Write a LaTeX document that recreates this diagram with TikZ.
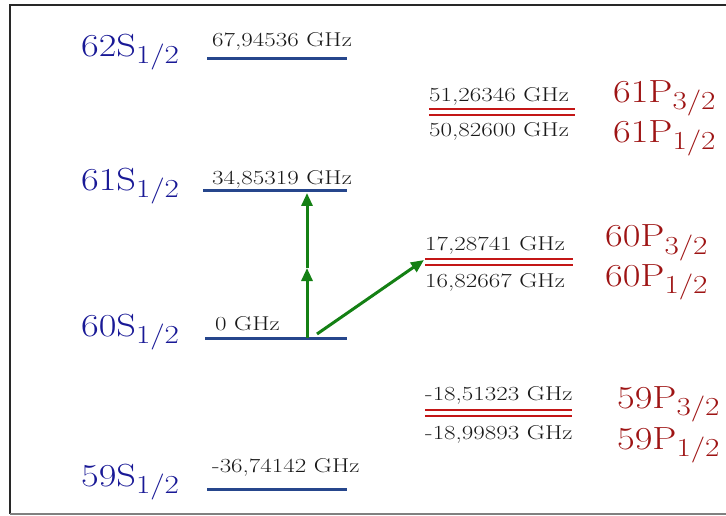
\documentclass[tikz,border=0pt]{standalone}
\usetikzlibrary{arrows.meta}
\definecolor{lvlblue}{RGB}{38,70,140}
\definecolor{txtblue}{RGB}{25,25,150}
\definecolor{lvlred}{RGB}{195,22,22}
\definecolor{txtred}{RGB}{158,20,20}
\definecolor{arrgreen}{RGB}{20,128,20}
\definecolor{freqgray}{RGB}{25,25,25}
\definecolor{framegray}{RGB}{40,40,40}
\newcommand\StateLbl[3]{\scalebox{1.2}[1]{\fontsize{32}{34}\selectfont #1#2\raisebox{-7pt}{\fontsize{26}{28}\selectfont #3}}}
\newcommand\FreqLbl[1]{\scalebox{1.25}[1]{\fontsize{20}{22}\selectfont #1}}
\begin{document}
\begin{tikzpicture}[x=1pt,y=-1pt,
  txt/.style={inner sep=0pt, anchor=base west},
  slabel/.style={txt, text=txtblue},
  plabel/.style={txt, text=txtred},
  flabel/.style={txt, text=freqgray},
  slevel/.style={draw=lvlblue, line width=3pt},
  plevel/.style={draw=lvlred, line width=2.6pt},
  exc/.style={draw=arrgreen, line width=3pt, -{Triangle[length=13pt,width=11pt]}}
]
\useasboundingbox (0,0) rectangle (726,516);
% frame
\draw[framegray, line width=2.4pt] (726,5) -- (10,5) -- (10,514);
\draw[gray, line width=1.6pt] (10,514) -- (726,514);

% S levels
\coordinate (s62a) at (207,59); \coordinate (s62b) at (347,59);
\coordinate (s61a) at (203,191); \coordinate (s61b) at (347,191);
\coordinate (s60a) at (205,338); \coordinate (s60b) at (347,338);
\coordinate (s59a) at (207,489); \coordinate (s59b) at (347,489);
\draw[slevel] (s62a) -- (s62b);
\draw[slevel] (s61a) -- (s61b);
\draw[slevel] (s60a) -- (s60b);
\draw[slevel] (s59a) -- (s59b);

\node[slabel] (l62) at (81,57) {\StateLbl{62}{S}{1/2}};
\node[slabel] (l61) at (81,190) {\StateLbl{61}{S}{1/2}};
\node[slabel] (l60) at (81,336) {\StateLbl{60}{S}{1/2}};
\node[slabel] (l59) at (81,486) {\StateLbl{59}{S}{1/2}};

\node[flabel] (f62) at (212,47) {\FreqLbl{67,94536 GHz}};
\node[flabel] (f61) at (212,185) {\FreqLbl{34,85319 GHz}};
\node[flabel] (f60) at (215,330) {\FreqLbl{0 GHz}};
\node[flabel] (f59) at (212,472) {\FreqLbl{-36,74142 GHz}};

% P levels
\coordinate (p61a) at (429,109); \coordinate (p61b) at (575,109);
\coordinate (p61c) at (429,115); \coordinate (p61d) at (575,115);
\coordinate (p60a) at (425,259); \coordinate (p60b) at (573,259);
\coordinate (p60c) at (425,265); \coordinate (p60d) at (573,265);
\coordinate (p59a) at (425,410); \coordinate (p59b) at (572,410);
\coordinate (p59c) at (425,416); \coordinate (p59d) at (572,416);
\draw[plevel] (p61a) -- (p61b);
\draw[plevel] (p61c) -- (p61d);
\draw[plevel] (p60a) -- (p60b);
\draw[plevel] (p60c) -- (p60d);
\draw[plevel] (p59a) -- (p59b);
\draw[plevel] (p59c) -- (p59d);

\node[flabel] (f61p3) at (429,102) {\FreqLbl{51,26346 GHz}};
\node[flabel] (f61p1) at (429,137) {\FreqLbl{50,82600 GHz}};
\node[flabel] (f60p3) at (425,250) {\FreqLbl{17,28741 GHz}};
\node[flabel] (f60p1) at (425,287) {\FreqLbl{16,82667 GHz}};
\node[flabel] (f59p3) at (425,400) {\FreqLbl{-18,51323 GHz}};
\node[flabel] (f59p1) at (425,439) {\FreqLbl{-18,99893 GHz}};

\node[plabel] (l61p3) at (613,103) {\StateLbl{61}{P}{3/2}};
\node[plabel] (l61p1) at (613,143) {\StateLbl{61}{P}{1/2}};
\node[plabel] (l60p3) at (605,247) {\StateLbl{60}{P}{3/2}};
\node[plabel] (l60p1) at (605,286) {\StateLbl{60}{P}{1/2}};
\node[plabel] (l59p3) at (617,408) {\StateLbl{59}{P}{3/2}};
\node[plabel] (l59p1) at (617,449) {\StateLbl{59}{P}{1/2}};

% excitation arrows
\coordinate (g0) at (307,338);
\coordinate (gm) at (307,268);
\coordinate (g1) at (307,193);
\coordinate (d0) at (317,334);
\coordinate (d1) at (424,260);
\draw[exc] (g0) -- (gm);
\draw[exc] (gm) -- (g1);
\draw[exc] (d0) -- (d1);
\end{tikzpicture}
\end{document}
